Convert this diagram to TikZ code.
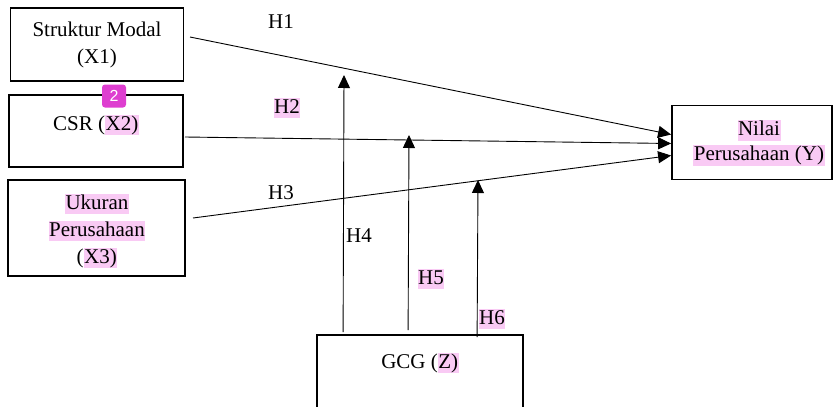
\documentclass[tikz,border=0pt]{standalone}
\usepackage{fontspec}
\setmainfont{Liberation Serif}
\newfontfamily\badgefont{Liberation Sans}
\usetikzlibrary{arrows.meta,calc}
\definecolor{hlpink}{RGB}{249,202,244}
\definecolor{badgemag}{RGB}{222,62,208}
\newcommand{\hlt}[1]{{\setlength{\fboxsep}{0.5pt}\colorbox{hlpink}{\vphantom{(Xy}#1}}}
\begin{document}
\begin{tikzpicture}[x=1pt,y=-1pt,
  box/.style={draw,line width=1.8pt,minimum width=#1},
  conn/.style={line width=0.9pt},
  arr/.style={conn,-{Triangle[length=13pt,width=12pt]}},
  txt/.style={font=\fontsize{21}{27}\selectfont,align=center,inner sep=0pt},
  hlab/.style={font=\fontsize{21}{25}\selectfont,inner sep=0pt}]
\useasboundingbox (0,0) rectangle (833,407);
% boxes
\node[box=173pt,minimum height=73pt] (x1) at (97,44.5) {};
\node[box=174pt,minimum height=72pt] (x2) at (96,131) {};
\node[box=177pt,minimum height=96pt] (x3) at (96.5,228) {};
\node[box=160pt,minimum height=74pt] (yv) at (752,142.5) {};
\node[box=206pt,minimum height=85pt] (zv) at (420,377.5) {};
% texts
\node[txt] (tx1) at (97,45) {Struktur Modal\\(X1)};
\node[txt] (tx2) at (96,125) {CSR (\hlt{X2)}};
\node[txt] (tx3) at (97,231) {\hlt{Ukuran}\\\hlt{Perusahaan}\\(\hlt{X3)}};
\node[txt,font=\fontsize{21}{25}\selectfont] (ty) at (759,143) {\hlt{Nilai}\\\hlt{Perusahaan (Y)}};
\node[txt] (tz) at (420,363) {GCG (\hlt{Z)}};
% badge
\node[fill=badgemag,rounded corners=3pt,minimum width=24pt,minimum height=23pt,inner sep=0pt,text=white,font=\badgefont\fontsize{16}{16}\selectfont] (badge) at (114,96) {2};
% coordinates
\coordinate (s1) at (190,37);
\coordinate (s2) at (185,137);
\coordinate (s3) at (193,218);
\coordinate (t4) at (344,75);
\coordinate (t5) at (409,135);
\coordinate (t6) at (478,180);
% connectors
\draw[arr] (s1) -- ($(yv.west)+(0,-8)$);
\draw[arr] (s2) -- ($(yv.west)+(0,1)$);
\draw[arr] (s3) -- ($(yv.west)+(0,13)$);
\draw[arr] ($(zv.north west)+(27,-2)$) -- (t4);
\draw[arr] ($(zv.north west)+(92,-4)$) -- (t5);
\draw[arr] ($(zv.north west)+(161,3)$) -- (t6);
% labels
\node[hlab] (h1) at (281,22) {H1};
\node[hlab] (h2) at (287,108) {\hlt{H2}};
\node[hlab] (h3) at (281,193) {H3};
\node[hlab] (h4) at (359,236) {H4};
\node[hlab] (h5) at (431,279) {\hlt{H5}};
\node[hlab] (h6) at (492,319) {\hlt{H6}};
\end{tikzpicture}
\end{document}
